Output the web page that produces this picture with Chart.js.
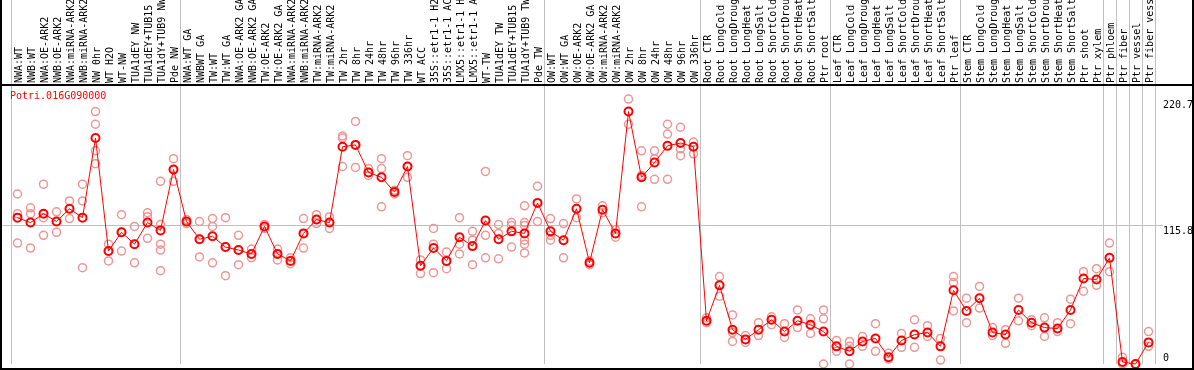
<!DOCTYPE html>
<html>
<head>
<meta charset="utf-8">
<script src="https://cdn.jsdelivr.net/npm/chart.js@4/dist/chart.umd.min.js"></script>
<style>
body{margin:0;background:#fff;}
canvas{display:block;}
</style>
</head>
<body>
<canvas id="mycanvas" width="1194" height="370"></canvas>
<script>
var geneId = "Potri.016G090000";

var samples = [
  "NWA:WT","NWB:WT","NWA:OE-ARK2","NWB:OE-ARK2","NWA:miRNA-ARK2","NWB:miRNA-ARK2",
  "NW 0hr","WT H2O","WT-NW","TUA1dEY NW","TUA1dEY+TUB15 NW","TUA1dY+TUB9 NW","Pde NW",
  "NWA:WT GA","NWBWT GA","TW:WT","TW:WT GA","NWA:OE-ARK2 GA","NWB:OE-ARK2 GA","TW:OE-ARK2",
  "TW:OE-ARK2 GA","NWA:miRNA-ARK2 GA","NWB:miRNA-ARK2 GA","TW:miRNA-ARK2","TW:miRNA-ARK2 GA",
  "TW 2hr","TW 8hr","TW 24hr","TW 48hr","TW 96hr","TW 336hr","WT ACC",
  "35S::etr1-1 H2O","35S::etr1-1 ACC","LMX5::etr1-1 H2O","LMX5::etr1-1 ACC",
  "WT-TW","TUA1dEY TW","TUA1dEY+TUB15 TW","TUA1dY+TUB9 TW","Pde TW",
  "OW:WT","OW:WT GA","OW:OE-ARK2","OW:OE-ARK2 GA","OW:miRNA-ARK2","OW:miRNA-ARK2 GA",
  "OW 2hr","OW 8hr","OW 24hr","OW 48hr","OW 96hr","OW 336hr",
  "Root CTR","Root LongCold","Root LongDrought","Root LongHeat","Root LongSalt",
  "Root ShortCold","Root ShortDrought","Root ShortHeat","Root ShortSalt","Ptr root",
  "Leaf CTR","Leaf LongCold","Leaf LongDrought","Leaf LongHeat","Leaf LongSalt",
  "Leaf ShortCold","Leaf ShortDrought","Leaf ShortHeat","Leaf ShortSalt","Ptr leaf",
  "Stem CTR","Stem LongCold","Stem LongDrought","Stem LongHeat","Stem LongSalt",
  "Stem ShortCold","Stem ShortDrought","Stem ShortHeat","Stem ShortSalt","Ptr shoot",
  "Ptr xylem","Ptr phloem","Ptr fiber","Ptr vessel","Ptr fiber vessel"
];

// mean expression per sample
var means = [
  121.9,117.8,125.2,118.7,129.3,121.9,188.2,94.1,109.7,99.8,117.8,111.3,162.0,
  118.7,103.9,106.4,97.4,94.9,91.7,114.6,91.7,85.9,108.8,120.3,117.8,
  180.9,182.5,159.6,155.5,143.2,164.5,81.8,96.6,85.9,105.6,98.2,
  119.5,103.9,110.5,108.8,134.2,
  110.5,103.1,129.3,84.3,128.5,108.8,210.3,155.5,167.8,181.7,184.1,180.9,
  36.0,65.5,28.6,20.5,28.6,36.8,27.0,36.0,32.7,27.0,
  14.7,10.6,18.8,21.3,5.7,19.6,24.5,26.2,14.7,61.4,
  44.2,54.8,26.2,24.5,45.0,34.4,30.3,29.5,45.0,71.2,
  70.4,88.4,1.6,0,18.0
];

// replicate values per sample
var reps = [
  [141.6,125.2,100.7],[130.1,125.2,96.6],[149.8,121.9,107.2],[126.8,118.7,109.7],
  [135.8,129.3,121.1],[149.8,135.8,80.2],[210.3,199.7,177.6,166.9],[99.8,94.1,85.9],
  [124.4,109.7,94.1],[114.6,99.8,84.3],[126.0,122.7,104.7],[152.2,116.2,99.8,94.9,77.7],
  [171.0,162.0,152.2],
  [120.3,117.0],[118.7,103.9,89.2],[121.1,114.6,84.3],[121.9,97.4,73.6],
  [107.2,94.9,82.7],[95.7,91.7,88.4],[116.2,112.9],[95.7,91.7,86.7],[88.4,83.5],
  [121.1,108.8,96.6],[124.4,120.3,117.0],[122.7,117.8,112.9],
  [189.9,188.2,164.5],[202.1,182.5,163.7],[162.8,159.6,157.1],[171.0,162.8,130.9],
  [144.8,141.6],[173.5,164.5,155.5],[86.7,81.8,75.3],[112.9,99.8,76.1],[93.3,85.9,79.4],
  [121.9,99.8,91.7],[110.5,103.1,82.7],[160.4,107.2,88.4],[116.2,108.8,87.6],
  [117.8,115.4,97.4],[131.8,117.8,115.4,103.1,99.8,92.5],[148.1,118.7],
  [121.1,107.2,103.1],[117.0,88.4],[137.5,121.9],[85.9,82.7],[131.8,126.0],[112.1,105.6],
  [220.7,199.7],[177.6,157.1,130.9],[177.6,171.0,153.8],[199.7,191.5,153.8],
  [197.2,179.2,173.5],[184.9,175.1],
  [38.5,34.4],[72.8,56.5],[40.9,26.2,18.8],[23.7,18.0],[34.4,23.7],[39.3,32.7],
  [33.6,22.1],[45.0,30.3],[37.6,25.4],[45.0,37.6,0],
  [19.6,10.6],[18.8,14.7,0],[22.9,14.7],[33.6,10.6],[9.0,4.1],[25.4,13.9],
  [36.8,13.9],[31.9,22.9],[21.3,3.3],[72.8,67.9,44.2],
  [54.8,34.4],[64.6,46.6],[30.3,23.7],[28.6,17.2],[54.8,36.0],[36.8,31.9],
  [38.5,22.9],[34.4,27.0],[54.0,33.6],[76.9,60.6],
  [79.4,65.5],[100.7,76.9],[5.7,0],[0],[27.0,14.7]
];

var yTicks = [0, 115.8, 220.7];
var yMax = 232.4;
// first sample index of each tissue group (last entry closes the plot)
var groupStarts = [0, 13, 41, 53, 63, 73, 84, 85, 86, 87, 88];

var repPoints = [];
for (var i = 0; i < reps.length; i++) {
  for (var j = 0; j < reps[i].length; j++) {
    repPoints.push({x: i, y: reps[i][j]});
  }
}

var monoFont = {family: "'DejaVu Sans Mono', monospace", size: 10};

var framePlugin = {
  id: 'frame',
  beforeDatasetsDraw: function(chart) {
    var ctx = chart.ctx, xs = chart.scales.x, ys = chart.scales.y, a = chart.chartArea;
    var half = (xs.getPixelForValue(1) - xs.getPixelForValue(0)) / 2;
    ctx.save();
    ctx.fillStyle = '#c0c0c0';
    groupStarts.forEach(function(b) {
      var px = b < samples.length ? xs.getPixelForValue(b) - half : xs.getPixelForValue(samples.length - 1) + half;
      ctx.fillRect(Math.round(px), 0, 1, a.bottom);
    });
    var gy = Math.round(ys.getPixelForValue(yTicks[1]));
    ctx.fillRect(2, gy, a.right + 6, 1);
    ctx.restore();
  },
  afterDraw: function(chart) {
    var ctx = chart.ctx, a = chart.chartArea, w = chart.width, h = chart.height;
    ctx.save();
    ctx.fillStyle = '#000';
    ctx.fillRect(0, 0, 2, h);
    ctx.fillRect(w - 2, 0, 2, h);
    ctx.fillRect(0, h - 2, w, 2);
    ctx.fillRect(0, a.top - 1, w, 2);
    ctx.fillStyle = '#ff0000';
    ctx.font = "10px 'DejaVu Sans Mono', monospace";
    ctx.textBaseline = 'top';
    ctx.fillText(geneId, a.left - 1, a.top + 6);
    ctx.restore();
  }
};

function noPad(s) {
  s.paddingTop = 0;
  s.paddingBottom = 0;
  s.paddingLeft = 0;
  s.paddingRight = 0;
}

var ctx = document.getElementById('mycanvas');
var chart = new Chart(ctx, {
  type: 'line',
  data: {
    labels: samples,
    datasets: [
      {
        label: 'mean',
        data: means,
        borderColor: '#ff0000',
        borderWidth: 1,
        tension: 0,
        pointRadius: 4,
        pointBorderWidth: 2,
        pointBorderColor: '#ff0000',
        pointBackgroundColor: 'rgba(0,0,0,0)',
        clip: false
      },
      {
        label: 'replicates',
        data: repPoints,
        parsing: false,
        showLine: false,
        pointRadius: 4,
        pointBorderWidth: 1.5,
        pointBorderColor: 'rgb(236,150,150)',
        pointBackgroundColor: 'rgba(0,0,0,0)',
        clip: false
      }
    ]
  },
  options: {
    responsive: false,
    animation: false,
    devicePixelRatio: 1,
    layout: {padding: {left: 11, right: 0, top: 0, bottom: 1}},
    plugins: {legend: {display: false}, tooltip: {enabled: false}},
    scales: {
      x: {
        position: 'top',
        offset: true,
        grid: {display: false, drawTicks: false},
        border: {display: false},
        afterFit: function(s) { s.height = 85; noPad(s); },
        ticks: {autoSkip: false, minRotation: 90, maxRotation: 90, padding: 2, labelOffset: 14, font: monoFont, color: '#000'}
      },
      y: {
        position: 'right',
        min: 0,
        max: yMax,
        grid: {display: false, drawTicks: false},
        border: {display: false},
        afterBuildTicks: function(s) {
          s.ticks = yTicks.map(function(v) { return {value: v}; });
        },
        afterFit: function(s) { s.width = 39; noPad(s); },
        ticks: {
          padding: 8,
          font: monoFont,
          color: '#000',
          callback: function(v) { return v === 0 ? ['0', ''] : ['', String(v)]; }
        }
      }
    }
  },
  plugins: [framePlugin]
});
</script>
</body>
</html>
